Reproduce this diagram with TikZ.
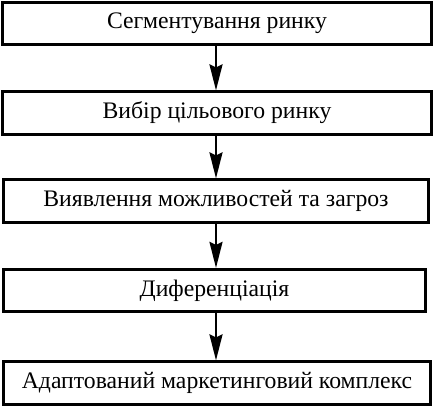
\documentclass[tikz,border=0pt]{standalone}
\usepackage{fontspec}
\setmainfont{Liberation Serif}
\usetikzlibrary{arrows.meta}
\begin{document}
\begin{tikzpicture}[x=1pt,y=-1pt,
  stagebox/.style={draw,line width=2.7pt,minimum height=42.5pt,inner sep=0pt,
    font=\fontsize{23.7}{27}\selectfont},
  flowarrow/.style={line width=2.2pt,-{Stealth[length=26pt,width=13pt,inset=3pt]}}]
\useasboundingbox (0,0) rectangle (434,407);
\node[stagebox,minimum width=429.5pt] (b1) at (217,23.5) {Сегментування ринку};
\node[stagebox,minimum width=429.5pt] (b2) at (217,113) {Вибір цільового ринку};
\node[stagebox,minimum width=425.5pt] (b3) at (216,201) {Виявлення можливостей та загроз};
\node[stagebox,minimum width=422.5pt] (b4) at (214.5,290.5) {Диференціація};
\node[stagebox,minimum width=427.5pt] (b5) at (217,383) {Адаптований маркетинговий комплекс};
\coordinate (ax) at (216,0);
\draw[flowarrow] (b1.south -| ax) -- (b2.north -| ax);
\draw[flowarrow] (b2.south -| ax) -- (b3.north -| ax);
\draw[flowarrow] (b3.south -| ax) -- (b4.north -| ax);
\draw[flowarrow] (b4.south -| ax) -- (b5.north -| ax);
\end{tikzpicture}
\end{document}
